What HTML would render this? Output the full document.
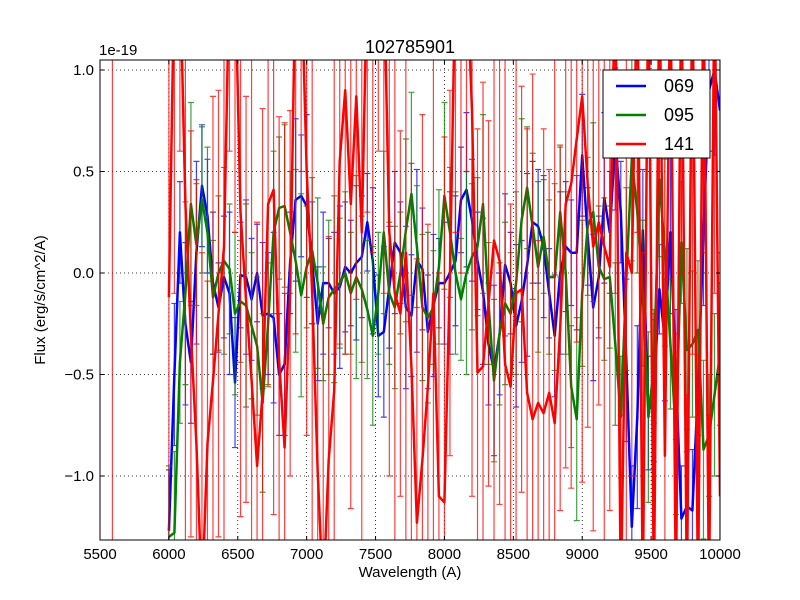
<!DOCTYPE html>
<html><head><meta charset="utf-8"><style>
html,body{margin:0;padding:0;background:#fff;width:800px;height:600px;overflow:hidden;}
svg{display:block;font-family:"Liberation Sans","DejaVu Sans",sans-serif;}
</style></head><body>
<svg id="chart" width="800" height="600" xmlns="http://www.w3.org/2000/svg">
<defs><clipPath id="clip"><rect x="100" y="60" width="620" height="480"/></clipPath></defs>
<rect x="0" y="0" width="800" height="600" fill="#fff"/>
<g id="grid"></g>
<g id="series" clip-path="url(#clip)"></g>
<rect x="100" y="60" width="620" height="480" fill="none" stroke="#000" stroke-width="1"/>
<g id="ticks"></g>
<text x="410" y="53" font-size="18" text-anchor="middle">102785901</text>
<text x="99" y="55" font-size="15">1e-19</text>
<text x="410" y="577" font-size="15" text-anchor="middle">Wavelength (A)</text>
<text transform="translate(45,300) rotate(-90)" font-size="15" text-anchor="middle">Flux (erg/s/cm^2/A)</text>
<g>
<rect x="603" y="70" width="107" height="88" fill="#fff" stroke="#000" stroke-width="1"/>
<g><line x1="616" y1="86" x2="646" y2="86" stroke="#0000ff" stroke-width="2.5"/><text x="664" y="92" font-size="18">069</text></g>
<g><line x1="616" y1="115" x2="646" y2="115" stroke="#008000" stroke-width="2.5"/><text x="664" y="121" font-size="18">095</text></g>
<g><line x1="616" y1="144" x2="646" y2="144" stroke="#ff0000" stroke-width="2.5"/><text x="664" y="150" font-size="18">141</text></g>
</g>
</svg>
<script>
const startWave = 6000;
const stepWave = 40;
const xTicks = [5500,6000,6500,7000,7500,8000,8500,9000,9500,10000];
const yTicks = [-1.0,-0.5,0.0,0.5,1.0];
const yTickLabels = ["\u22121.0","\u22120.5","0.0","0.5","1.0"];
const flux069 = [-1.27,-0.5,0.2,-0.25,-0.44,0.1,0.43,0.28,-0.05,-0.17,-0.02,-0.1,-0.54,-0.01,-0.02,-0.13,0.0,-0.21,-0.2,-0.22,-0.5,-0.45,0.05,0.36,0.38,0.33,0.05,-0.25,-0.05,-0.05,-0.1,-0.07,0.03,0.0,
0.05,0.08,0.25,0.06,-0.31,-0.29,-0.07,0.15,0.1,-0.17,-0.21,0.06,0.02,-0.29,-0.16,-0.05,-0.05,0.0,0.06,0.36,0.41,0.26,0.06,-0.09,-0.35,-0.48,-0.3,0.04,-0.05,-0.26,-0.14,0.04,0.25,0.23,
0.13,-0.1,-0.31,0.0,0.13,0.1,0.1,0.58,0.18,-0.17,-0.02,0.37,0.2,0.66,0.3,-0.43,-1.25,-0.71,0.21,-0.69,-0.58,-0.08,-0.33,0.2,-0.5,-1.21,-1.15,-1.17,-0.56,0.2,0.9,1.0,0.8];
const flux095 = [-1.3,-1.28,-0.44,-0.1,0.34,0.14,0.36,0.2,-0.12,0.0,0.06,0.02,-0.2,-0.14,-0.16,-0.26,-0.36,-0.64,-0.25,0.2,0.32,0.33,0.2,0.06,-0.11,0.03,0.11,-0.05,-0.25,-0.12,-0.08,-0.05,0.0,-0.1,
-0.02,-0.08,-0.18,-0.31,-0.1,0.2,-0.1,-0.17,0.0,0.21,0.39,0.13,-0.17,-0.22,-0.17,0.03,0.38,0.2,0.0,-0.13,0.0,0.08,0.13,0.34,-0.15,-0.53,-0.3,-0.15,-0.2,-0.05,0.26,0.42,0.23,0.03,
0.18,-0.02,-0.02,0.3,0.0,-0.56,-0.72,-0.1,0.23,0.3,0.03,-0.03,-0.02,-0.35,-0.71,-0.03,0.56,0.3,-0.1,-0.71,-0.46,0.46,0.1,-0.35,-0.79,0.15,-0.38,-0.35,-0.28,-0.87,-0.8,-0.6,-0.4];
const flux141 = [-0.12,1.5,1.5,0.34,-0.3,-0.84,-1.6,-0.84,-0.53,-0.2,0.13,1.5,1.5,0.3,-0.13,-0.53,-0.95,-0.59,0.34,0.41,-0.43,-0.86,-0.1,1.5,1.5,0.5,-0.1,-0.98,-1.6,-0.92,-0.58,0.55,0.9,0.34,
0.87,0.2,1.5,1.5,1.5,1.5,0.2,-0.1,-0.2,0.1,-0.46,-1.23,-0.92,-0.56,-0.1,-1.1,-1.13,0.0,1.5,1.5,1.5,0.8,-0.49,-0.46,-0.15,0.16,0.06,-0.45,-0.56,-0.1,-0.08,-0.59,-0.72,-0.64,
-0.69,-0.59,-0.74,-0.27,0.34,0.44,0.66,0.87,0.44,0.13,0.25,0.13,0.03,1.5,-1.6,0.1,0.0,1.5,-1.6,1.5,-1.6,1.5,-0.9,1.5,-1.6,1.5,-1.6,1.5,-1.6,1.5,-1.6,1.5,-1.1];
const err069 = [0.3,0.35,0.25,0.4,0.3,0.45,0.3,0.28,0.35,0.22,0.3,0.4,0.32,0.26,0.38,0.3,0.24,0.36,0.3,0.42];
const err095 = [0.35,0.4,0.3,0.45,0.5,0.3,0.36,0.42,0.28,0.38,0.46,0.32,0.4,0.3,0.5,0.36,0.34,0.44,0.3,0.4];
const err141 = [1.2,1.6,0.9,1.8,1.0,1.3,1.7,0.8,1.4,1.1,1.8,0.9,1.3,1.5,1.0,1.9,1.2,1.4,0.9,1.6];
const strayWave141 = [5590];
const strayFlux141 = [0.0];
const strayErr141 = [1.5];

const X0=100,X1=720,Y0=60,Y1=540;
function xs(w){return X0+(w-5500)/(10000-5500)*(X1-X0);}
function ys(v){return 273-v*203;}
function yc(v){return Math.max(Y0-8,Math.min(Y1+8,ys(v)));}
const NS="http://www.w3.org/2000/svg";
function mk(tag,attrs,parent){const e=document.createElementNS(NS,tag);for(const k in attrs)e.setAttribute(k,attrs[k]);parent.appendChild(e);return e;}
const grid=document.getElementById('grid'),ticks=document.getElementById('ticks'),ser=document.getElementById('series');
xTicks.forEach(t=>{
  const x=xs(t);
  const g=mk('line',{x1:x,y1:Y0,x2:x,y2:Y1,stroke:'#000','stroke-dasharray':'1,3','stroke-width':0.8},grid);
  
  
  mk('line',{x1:x,y1:Y1,x2:x,y2:Y1-4,stroke:'#000'},ticks);
  mk('line',{x1:x,y1:Y0,x2:x,y2:Y0+4,stroke:'#000'},ticks);
  const tl=mk('text',{x:x,y:Y1+19,'font-size':15,'text-anchor':'middle'},ticks);
  tl.textContent=t;
  
  
});
yTicks.forEach((t,i)=>{
  const y=ys(t);
  const g=mk('line',{x1:X0,y1:y,x2:X1,y2:y,stroke:'#000','stroke-dasharray':'1,3','stroke-width':0.8},grid);
  
  
  mk('line',{x1:X0,y1:y,x2:X0+4,y2:y,stroke:'#000'},ticks);
  mk('line',{x1:X1,y1:y,x2:X1-4,y2:y,stroke:'#000'},ticks);
  const tl=mk('text',{x:X0-6,y:y+5,'font-size':15,'text-anchor':'end'},ticks);
  tl.textContent=yTickLabels[i];
  
  
});
function bar(g,w,v,e,color,name){
  const x=xs(w);
  const top=yc(v+e),bot=yc(v-e);
  const b=mk('path',{d:`M${x},${top}V${bot}M${x-3},${top}H${x+3}M${x-3},${bot}H${x+3}`,stroke:color,'stroke-width':1.2,fill:'none',opacity:0.75},g);
  
  
}
function drawSeries(vals,errs,color,name){
  const g=mk('g',{},ser);
  
  
  let pts=[];
  vals.forEach((v,i)=>{
    const w=startWave+i*stepWave;
    bar(g,w,v,errs[i%errs.length],color,name);
    pts.push(xs(w).toFixed(1)+','+ys(v).toFixed(1));
  });
  const l=mk('polyline',{points:pts.join(' '),fill:'none',stroke:color,'stroke-width':2.5,'stroke-linejoin':'round'},g);
  
  
  return g;
}
drawSeries(flux069,err069,'#0000ff','069');
drawSeries(flux095,err095,'#008000','095');
const g141=drawSeries(flux141,err141,'#ff0000','141');
strayWave141.forEach((w,i)=>bar(g141,w,strayFlux141[i],strayErr141[i],'#ff0000','141'));
</script>
</body></html>
